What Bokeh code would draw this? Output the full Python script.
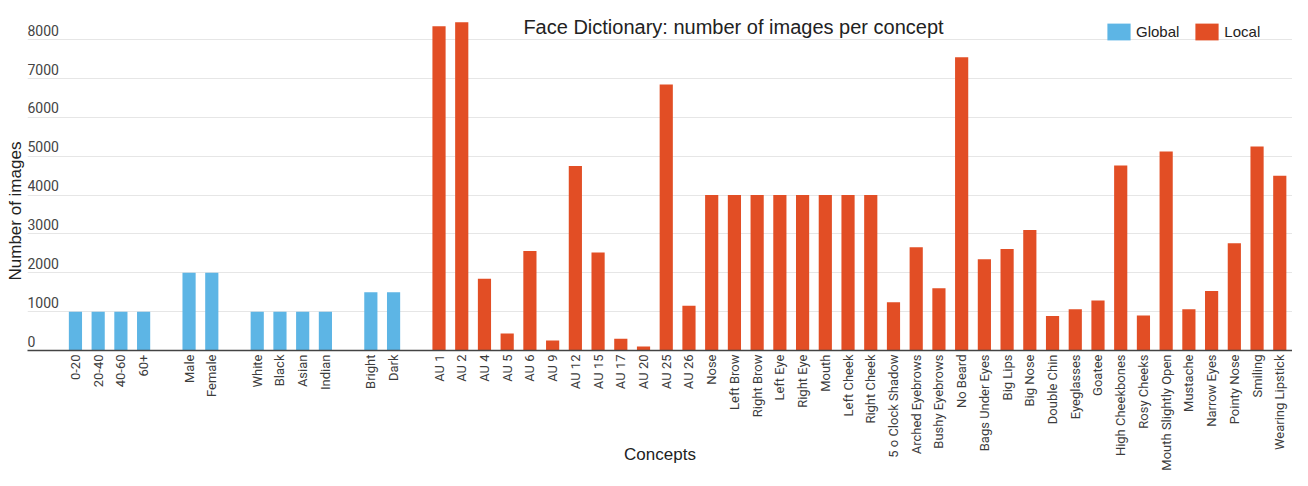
import math
from bokeh.plotting import figure
from bokeh.models import (ColumnDataSource, Range1d, FixedTicker, LabelSet, Label,
                          Legend, LegendItem, Title)
from bokeh.core.properties import value
from bokeh.embed import file_html
from bokeh.resources import INLINE

# ---------------- data ----------------
age = ["0-20", "20-40", "40-60", "60+"]
age_counts = [1000, 1000, 1000, 1000]
gender = ["Male", "Female"]
gender_counts = [2000, 2000]
race = ["White", "Black", "Asian", "Indian"]
race_counts = [1000, 1000, 1000, 1000]
skin = ["Bright", "Dark"]
skin_counts = [1500, 1500]

local_concepts = ["AU 1", "AU 2", "AU 4", "AU 5", "AU 6", "AU 9", "AU 12", "AU 15",
                  "AU 17", "AU 20", "AU 25", "AU 26", "Nose", "Left Brow", "Right Brow",
                  "Left Eye", "Right Eye", "Mouth", "Left Cheek", "Right Cheek",
                  "5 o Clock Shadow", "Arched Eyebrows", "Bushy Eyebrows", "No Beard",
                  "Bags Under Eyes", "Big Lips", "Big Nose", "Double Chin", "Eyeglasses",
                  "Goatee", "High Cheekbones", "Rosy Cheeks", "Mouth Slightly Open",
                  "Mustache", "Narrow Eyes", "Pointy Nose", "Smiling", "Wearing Lipstick"]
local_counts = [8350, 8450, 1850, 440, 2560, 260, 4750, 2525,
                300, 100, 6850, 1150, 4000, 4000, 4000,
                4000, 4000, 4000, 4000, 4000,
                1240, 2660, 1600, 7550,
                2350, 2610, 3100, 885, 1060,
                1290, 4760, 900, 5120,
                1060, 1530, 2760, 5250, 4500]

y_ticks = [0, 1000, 2000, 3000, 4000, 5000, 6000, 7000, 8000]
y_tick_labels = ["0", "1000", "2000", "3000", "4000", "5000", "6000", "7000", "8000"]

title_text = "Face Dictionary: number of images per concept"
x_title = "Concepts"
y_title = "Number of images"

# ---------------- slot positions (one empty slot between groups) ----------------
gx, gname, gtop = [], [], []
pos = 0
for names, counts in [(age, age_counts), (gender, gender_counts),
                      (race, race_counts), (skin, skin_counts)]:
    for n, c in zip(names, counts):
        gx.append(pos)
        gname.append(n)
        gtop.append(c)
        pos += 1
    pos += 1
lx = list(range(pos, pos + len(local_concepts)))

gsrc = ColumnDataSource(dict(x=gx, top=gtop, name=gname))
lsrc = ColumnDataSource(dict(x=lx, top=local_counts, name=local_concepts))

BLUE = "#5db5e5"
RED = "#e24e25"

p = figure(width=1292, height=470,
           x_range=Range1d(-2.11, lx[-1] + 0.56),
           y_range=Range1d(0, 9010),
           output_backend="svg", toolbar_location=None,
           min_border_left=26, min_border_right=0,
           min_border_top=0, min_border_bottom=120)
p.title.visible = False
p.outline_line_color = None
p.background_fill_color = "white"

rg = p.vbar(x="x", top="top", width=0.58, source=gsrc, fill_color=BLUE, line_color=None)
rl = p.vbar(x="x", top="top", width=0.58, source=lsrc, fill_color=RED, line_color=None)

# grid
p.xgrid.visible = False
p.ygrid.ticker = FixedTicker(ticks=y_ticks)
p.ygrid.grid_line_color = "#e6e6e6"
p.ygrid.grid_line_width = 1
p.yaxis.visible = False

# x axis
ax = p.xaxis[0]
ax.ticker = FixedTicker(ticks=gx + lx)
ax.major_label_overrides = {x: n for x, n in zip(gx + lx, gname + local_concepts)}
ax.major_label_orientation = math.pi / 2
ax.major_tick_line_color = None
ax.major_tick_out = 0
ax.major_tick_in = 0
ax.minor_tick_line_color = None
ax.axis_line_color = "#444444"
ax.axis_line_width = 1.5
ax.major_label_standoff = 4
ax.major_label_text_font = "Roboto"
ax.major_label_text_font_size = "13px"
ax.major_label_text_color = "#3c3c3c"
ax.axis_label = x_title
ax.axis_label_standoff = -29
ax.axis_label_text_font = "Liberation Sans"
ax.axis_label_text_font_size = "17px"
ax.axis_label_text_font_style = "normal"
ax.axis_label_text_color = "#222222"

# y tick labels, drawn above their gridlines
ysrc = ColumnDataSource(dict(y=y_ticks, text=y_tick_labels))
p.add_layout(LabelSet(x=0, y="y", text="text", source=ysrc,
                      x_units="screen", y_units="data", y_offset=4,
                      text_align="left", text_baseline="alphabetic",
                      text_font=value("Roboto"), text_font_size=value("14px"),
                      text_color=value("#444444")))

# chart title
p.add_layout(Label(x=706, y=324, x_units="screen", y_units="screen",
                   text=title_text, text_align="center", text_baseline="alphabetic",
                   text_font="Liberation Sans", text_font_size="20px",
                   text_color="#222222"))

# y axis title (starts above the frame bottom, reads upward)
p.add_layout(Title(text=y_title, align="left", offset=70, standoff=6,
                   text_font="Liberation Sans", text_font_size="17px",
                   text_font_style="normal", text_color="#222222"), "left")

legend = Legend(items=[LegendItem(label="Global", renderers=[rg]),
                       LegendItem(label="Local", renderers=[rl])],
                orientation="horizontal", location=(1077, 308),
                glyph_width=29, glyph_height=21, label_standoff=3, spacing=13,
                padding=0, margin=0,
                background_fill_alpha=0, border_line_alpha=0,
                label_text_font="Liberation Sans", label_text_font_size="15px",
                label_text_color="#222222")
p.add_layout(legend)

open("out.html", "w").write(file_html(p, INLINE))
